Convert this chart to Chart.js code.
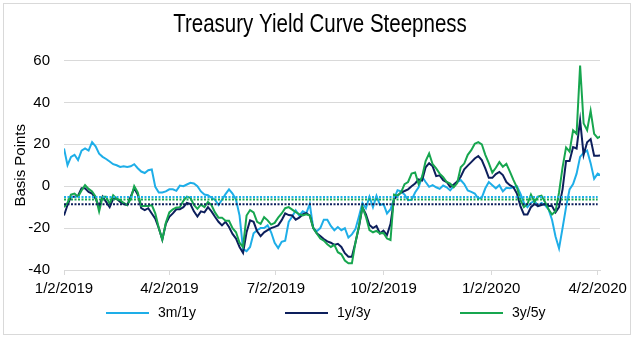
<!DOCTYPE html>
<html>
<head>
<meta charset="utf-8">
<title>Treasury Yield Curve Steepness</title>
<script src="https://cdn.jsdelivr.net/npm/chart.js@4.4.1/dist/chart.umd.min.js"></script>
<style>
  html, body { margin: 0; padding: 0; background: #fff; }
  #wrap { width: 635px; height: 338px; }
</style>
</head>
<body>
<div id="wrap"><canvas id="chart" width="635" height="338"></canvas></div>
<script>
// x values are days counted from 1/2/2019, one reading every 3 days
var stepDays = 3;
var tickDays = [0, 90, 181, 273, 365, 456];
var tickLabels = ["1/2/2019", "4/2/2019", "7/2/2019", "10/2/2019", "1/2/2020", "4/2/2020"];
var seriesNames = ["3m/1y", "1y/3y", "3y/5y"];
var seriesColors = ["#1eaee8", "#0d1f5c", "#17a64f"];
var chartTitle = "Treasury Yield Curve Steepness";

var threeMonthOneYear = [
	18, 10, 14, 15, 12.5, 17, 18, 17, 21, 19,
	15.5, 14, 13, 11.8, 10.5, 10, 9.2, 9.5, 9.2, 9.5,
	10.5, 8.6, 7, 6.3, 7.6, 8, -0.3, -3, -3, -2.5,
	-1.5, -1.5, -2.2, 0.3, 0, 0.8, 1.6, 1.3, 0, -2.5,
	-4, -4.3, -5.5, -6.5, -9, -6.5, -3.8, -1.5, -3.5, -6.5,
	-14, -30, -31, -29, -22.5, -21, -20, -20, -18.7, -22,
	-27, -29.5, -26.5, -26, -17, -14.5, -11.5, -14, -12, -13,
	-8.5, -20, -21.5, -20, -16, -16, -19, -21, -19.5, -21,
	-20, -24.5, -23, -20.5, -14.5, -8, -10.5, -5, -10, -4.6,
	-9, -8.5, -13, -11, -6, -1.9, -2.5, -4, -6.7, -6.5,
	-3, -0.5, 4.5, 2, -0.3, 0.5, -0.5, -1.3, 0.3, -0.5,
	-2, 0, 2, 2.9, 1, -2, -2.7, -3.5, -5.9, -5.5,
	-1, 2, 0.5, -1, 0.5, -2.5, -0.8, -1, -0.5, 0,
	-3.5, -8, -10, -8, -7, -9.5, -8, -9, -11, -16,
	-24, -29.7, -20, -10, -1.5, 1, 6, 14, 16, 17,
	11, 3.5, 6, 5
];
var oneYearThreeYear = [
	-14, -9, -5, -5, -4.5, -1, -1, -2.7, -3.5, -6,
	-9.5, -5, -7.5, -10, -6, -6, -7.5, -8.5, -9, -5,
	-1, -4, -10.5, -11.4, -10.5, -13, -15.5, -20, -25.5, -18,
	-14.6, -13, -11, -11, -10, -8, -8.5, -12, -14.5, -12,
	-12.5, -10, -12, -14.6, -17, -18.7, -17, -19.5, -22.8, -25,
	-29, -31.8, -22, -16.3, -17, -21.5, -23.8, -22, -21, -20,
	-19.4, -18.7, -16.2, -13, -13.8, -14, -16, -15, -13.5, -12.8,
	-14, -20, -22.5, -23.8, -25.2, -26.3, -27, -28, -27.5, -29,
	-32, -33.7, -33.7, -27, -19.5, -10, -13.5, -18.5, -20, -19,
	-22.5, -21.2, -23.3, -18, -6.3, -4.5, -3, -2.3, -1.5, 0,
	1.3, 3.2, 2.7, 9, 11, 9.5, 4.8, 5.2, 2.9, 2,
	-0.3, 0.8, 2.2, 4.5, 8, 9.8, 11.5, 13.2, 14.4, 12.5,
	8.5, 4, 4, 5.8, 6.8, 5.3, 2, 0.5, -0.5, -3.5,
	-9.5, -13.5, -13.5, -10, -8.5, -9.5, -9, -8.5, -9.5, -9.5,
	-12.5, -10, -1.5, 12, 12, 18.7, 18, 31.5, 15, 21,
	22.5, 14.5, 14.5, 14.8
];
var threeYearFiveYear = [
	-10, -8, -4, -3.5, -5, -2, 0.5, -1.3, -2.5, -5,
	-12, -5, -5, -8.5, -4.3, -6, -6.7, -8, -9, -6,
	0, -3, -9.5, -9.5, -9.5, -9, -13, -20, -25.5, -17.5,
	-12.5, -11, -10.2, -10, -7, -5, -5.5, -9, -10.8, -8.8,
	-10, -7.5, -9, -12.5, -15, -15, -16.5, -16.5, -20, -22,
	-27, -29, -14, -11.4, -12.5, -17, -18, -14.8, -16.3, -18.3,
	-17.5, -15, -13, -10.5, -10, -11.2, -12.4, -13.3, -14, -13.4,
	-14, -20, -22.6, -25, -26, -27.7, -29, -28, -31.5, -32.5,
	-35.5, -36.8, -36.8, -27, -19, -10, -14.6, -21, -22, -21.3,
	-22.5, -22.3, -25, -25.7, -4, -4.5, -3, 1, 2, 6,
	6.5, 1, 4.5, 12, 15.6, 10.5, 8.5, 6, 4.3, 2,
	1.2, -0.5, 1.5, 9, 10.8, 15, 17.2, 20.3, 21, 20,
	15, 11, 6.5, 8.8, 11.5, 9.3, 10.7, 7, 3, -0.5,
	-6.5, -10, -8.5, -4, -7.5, -5, -4.5, -7.5, -11, -13.5,
	-12, -3, 9, 18.5, 16.5, 26.7, 25, 57.6, 30, 26.7,
	36, 25, 23, 24
];
// period averages, drawn dotted
var averages = [-5.1, -8.6, -6.3];

var font = "'Liberation Sans', Arial, sans-serif";

function toPoints(vals) {
	return vals.map(function(v, i) {
		return {x: i * stepDays, y: v};
	});
}

var datasets = [];
[threeMonthOneYear, oneYearThreeYear, threeYearFiveYear].forEach(function(vals, k) {
	datasets.push({
		label: seriesNames[k],
		data: toPoints(vals),
		borderColor: seriesColors[k],
		borderWidth: 2,
		pointRadius: 0,
		tension: 0,
		order: 3 - k
	});
});
averages.forEach(function(a, k) {
	datasets.push({
		label: seriesNames[k] + " average",
		data: [{x: 0, y: a}, {x: tickDays[tickDays.length - 1], y: a}],
		borderColor: seriesColors[k],
		borderWidth: 2,
		borderDash: [2, 1.5],
		pointRadius: 0,
		order: 0
	});
});

// white card with a thin grey frame, plus the condensed title
var framePlugin = {
	id: 'frame',
	beforeDraw: function(chart) {
		var ctx = chart.ctx;
		ctx.save();
		ctx.fillStyle = '#fff';
		ctx.fillRect(0, 0, chart.width, chart.height);
		ctx.strokeStyle = '#d9d9d9';
		ctx.lineWidth = 1;
		ctx.strokeRect(3.5, 3.5, 627, 331);
		// title in a narrow face: squeeze a regular sans horizontally
		ctx.translate(320, 31.5);
		ctx.scale(0.82, 1);
		ctx.font = '25px ' + font;
		ctx.fillStyle = '#000';
		ctx.textAlign = 'center';
		ctx.textBaseline = 'alphabetic';
		ctx.fillText(chartTitle, 0, 0);
		ctx.restore();
	}
};

// legend with short line samples, spaced like the original
var legendPlugin = {
	id: 'lineLegend',
	afterDraw: function(chart) {
		var ctx = chart.ctx;
		var y = 313;
		var starts = [106, 285, 460];
		ctx.save();
		ctx.font = '14px ' + font;
		ctx.textBaseline = 'middle';
		ctx.textAlign = 'left';
		seriesNames.forEach(function(name, k) {
			ctx.strokeStyle = seriesColors[k];
			ctx.lineWidth = 2;
			ctx.beginPath();
			ctx.moveTo(starts[k], y);
			ctx.lineTo(starts[k] + 43, y);
			ctx.stroke();
			ctx.fillStyle = '#000';
			ctx.fillText(name, starts[k] + 52, y);
		});
		ctx.restore();
	}
};

var ctx = document.getElementById('chart').getContext('2d');
var chart = new Chart(ctx, {
	type: 'line',
	data: {datasets: datasets},
	plugins: [framePlugin, legendPlugin],
	options: {
		responsive: false,
		animation: false,
		layout: {
			padding: {left: 0, right: 35, top: 60.5, bottom: 38}
		},
		plugins: {
			legend: {display: false},
			tooltip: {enabled: false},
			title: {display: false}
		},
		scales: {
			x: {
				type: 'linear',
				min: 0,
				max: 458,
				afterFit: function(scale) { scale.height = 30; },
				afterBuildTicks: function(scale) {
					scale.ticks = tickDays.map(function(d) { return {value: d}; });
				},
				ticks: {
					autoSkip: false,
					maxRotation: 0,
					padding: 5,
					color: '#000',
					font: {family: font, size: 15},
					callback: function(v) { return tickLabels[tickDays.indexOf(v)]; }
				},
				grid: {
					drawOnChartArea: false,
					drawTicks: true,
					tickLength: 5,
					color: '#d9d9d9'
				},
				border: {display: true, color: '#d9d9d9'}
			},
			y: {
				min: -40,
				max: 60,
				afterFit: function(scale) { scale.width = 64; },
				ticks: {
					stepSize: 20,
					padding: 14,
					color: '#000',
					font: {family: font, size: 15}
				},
				grid: {color: '#d9d9d9', drawTicks: false},
				border: {display: false},
				title: {
					display: true,
					text: 'Basis Points',
					color: '#000',
					font: {family: font, size: 15},
					padding: {top: 12, bottom: 0}
				}
			}
		}
	}
});
</script>
</body>
</html>
